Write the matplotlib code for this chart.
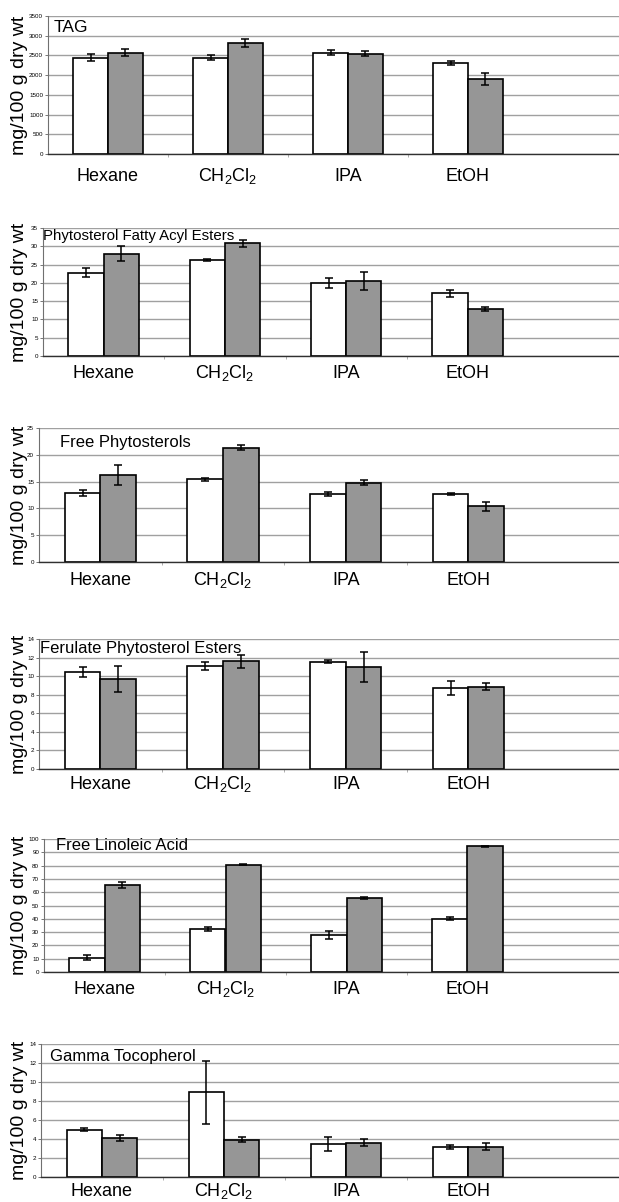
import numpy as np
import matplotlib
matplotlib.use("Agg")
import matplotlib.pyplot as plt

plt.rcParams["font.family"] = ["Liberation Sans", "DejaVu Sans"]
plt.rcParams["mathtext.fontset"] = "custom"
plt.rcParams["mathtext.rm"] = "Liberation Sans"
plt.rcParams["mathtext.default"] = "rm"

# solventes de extracao
solventes = ["Hexane", "CH$_2$Cl$_2$", "IPA", "EtOH"]

# TAG
tag_branco = [2445, 2445, 2570, 2300]
tag_branco_err = [85, 60, 65, 50]
tag_cinza = [2570, 2810, 2545, 1905]
tag_cinza_err = [90, 105, 60, 145]

# esteres de acido graxo de fitosterol
pfae_branco = [22.8, 26.3, 19.9, 17.2]
pfae_branco_err = [1.3, 0.25, 1.4, 0.95]
pfae_cinza = [27.9, 30.8, 20.5, 12.8]
pfae_cinza_err = [2.05, 0.95, 2.5, 0.5]

# fitosterois livres
fp_branco = [12.9, 15.4, 12.7, 12.7]
fp_branco_err = [0.5, 0.25, 0.35, 0.2]
fp_cinza = [16.25, 21.3, 14.8, 10.4]
fp_cinza_err = [1.9, 0.45, 0.5, 0.8]

# esteres de ferulato de fitosterol
fpe_branco = [10.45, 11.1, 11.55, 8.75]
fpe_branco_err = [0.52, 0.47, 0.18, 0.75]
fpe_cinza = [9.65, 11.6, 10.95, 8.85]
fpe_cinza_err = [1.4, 0.68, 1.6, 0.36]

# acido linoleico livre
fla_branco = [10.8, 32.2, 27.6, 40.2]
fla_branco_err = [2.0, 1.6, 3.0, 1.1]
fla_cinza = [65.6, 80.6, 55.8, 94.6]
fla_cinza_err = [2.3, 0.4, 0.6, 0.5]

# gama tocoferol
gt_branco = [5.0, 8.9, 3.45, 3.17]
gt_branco_err = [0.19, 3.3, 0.72, 0.23]
gt_cinza = [4.12, 3.94, 3.62, 3.2]
gt_cinza_err = [0.28, 0.23, 0.4, 0.35]

titulos = ["TAG", "Phytosterol Fatty Acyl Esters", "Free Phytosterols",
           "Ferulate Phytosterol Esters", "Free Linoleic Acid", "Gamma Tocopherol"]
ymax = [3500, 35, 25, 14, 100, 14]
ypasso = [500, 5, 5, 2, 10, 2]

dados = [
    (tag_branco, tag_branco_err, tag_cinza, tag_cinza_err),
    (pfae_branco, pfae_branco_err, pfae_cinza, pfae_cinza_err),
    (fp_branco, fp_branco_err, fp_cinza, fp_cinza_err),
    (fpe_branco, fpe_branco_err, fpe_cinza, fpe_cinza_err),
    (fla_branco, fla_branco_err, fla_cinza, fla_cinza_err),
    (gt_branco, gt_branco_err, gt_cinza, gt_cinza_err),
]

# layout em pixels: esquerda, topo, base, largura da categoria,
# posicao do titulo (x, y), distancia da linha base do rotulo, fonte do titulo
layout = [
    (48, 16, 154, 120, 54, 28, 27, 12.5),
    (43, 228, 356, 121.3, 43, 236, 22.3, 10.8),
    (39, 428, 562, 122.7, 60, 442, 23, 12),
    (39, 639, 769, 122.7, 40, 648, 20, 12),
    (44, 839, 972, 121, 56, 846, 21.6, 12),
    (41, 1044, 1177, 122, 50, 1057, 19, 12),
]

W, H = 619, 1202
fig = plt.figure(figsize=(W / 100, H / 100), dpi=100)

x = np.arange(len(solventes))
bw = 0.29
cor_grade = "#a0a0a0"
ekw = dict(elinewidth=1.1, capthick=1.1, ecolor="black")

for (branco, branco_err, cinza, cinza_err), titulo, ym, yp, lay in zip(dados, titulos, ymax, ypasso, layout):
    esq, topo, base, larg, tx, ty, dbase, tfs = lay
    ax = fig.add_axes([esq / W, 1 - base / H, 1 - esq / W, (base - topo) / H])

    ax.bar(x - bw / 2, branco, bw, color="white", edgecolor="black", linewidth=1.2,
           yerr=branco_err, capsize=3, error_kw=ekw, zorder=2)
    ax.bar(x + bw / 2, cinza, bw, color="#969696", edgecolor="black", linewidth=1.2,
           yerr=cinza_err, capsize=3, error_kw=ekw, zorder=2)

    ax.set_ylim(0, ym)
    ax.set_xlim(-0.5, -0.5 + (W - esq) / larg)
    ax.set_yticks(np.arange(0, ym + yp / 2, yp))
    ax.yaxis.grid(True, color=cor_grade, linewidth=1.0)
    ax.set_axisbelow(True)
    ax.tick_params(axis="y", labelsize=4.5, length=2, width=0.6, pad=1.5, color="#606060")

    ax.set_xticks(x, solventes, fontsize=13, va="baseline")
    ax.set_xticks([0.5, 1.5, 2.5], minor=True)
    ax.tick_params(axis="x", which="major", length=0, pad=dbase * 0.72)
    ax.tick_params(axis="x", which="minor", length=2.5, width=0.6, color=cor_grade)

    for lado in ["top", "right"]:
        ax.spines[lado].set_visible(False)
    ax.spines["left"].set_color("#707070")
    ax.spines["left"].set_linewidth(0.8)
    ax.spines["bottom"].set_color("#303030")
    ax.spines["bottom"].set_linewidth(1.0)

    ax.set_ylabel("mg/100 g dry wt", fontsize=14)
    ax.yaxis.set_label_coords(28 / W, 1 - (topo + base) / 2 / H, transform=fig.transFigure)

    fig.text(tx / W, 1 - ty / H, titulo, fontsize=tfs, ha="left", va="center")

fig.savefig("out.png", dpi=100)
